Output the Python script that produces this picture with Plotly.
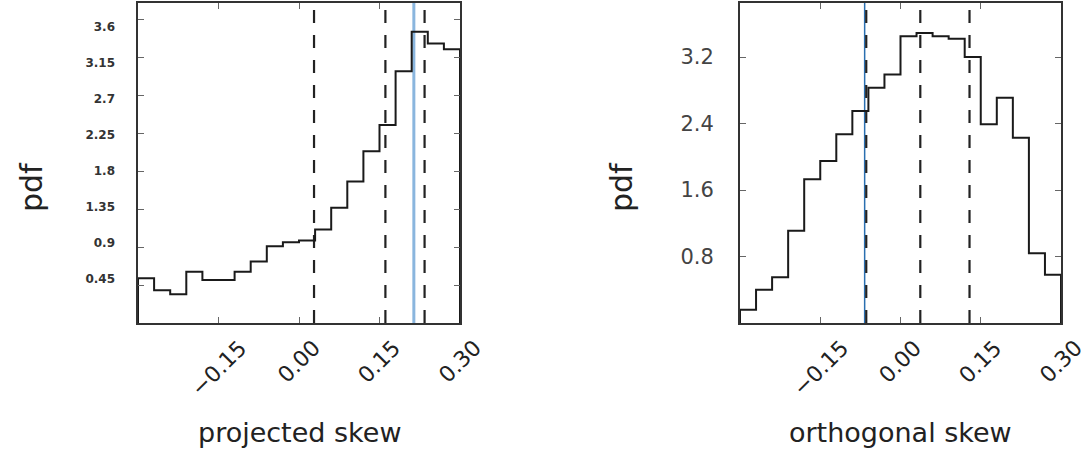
import plotly.graph_objects as go

# ---------------- data ----------------
bin_edges = [-0.30, -0.27, -0.24, -0.21, -0.18, -0.15, -0.12, -0.09, -0.06, -0.03,
             0.00, 0.03, 0.06, 0.09, 0.12, 0.15, 0.18, 0.21, 0.24, 0.27, 0.30]

proj_pdf = [0.53, 0.39, 0.34, 0.61, 0.51, 0.51, 0.61, 0.73, 0.91, 0.96,
            0.98, 1.11, 1.37, 1.68, 2.04, 2.35, 2.99, 3.46, 3.32, 3.25]
orth_pdf = [0.16, 0.40, 0.55, 1.11, 1.73, 1.95, 2.27, 2.55, 2.83, 2.99,
            3.45, 3.49, 3.45, 3.42, 3.20, 2.39, 2.71, 2.23, 0.84, 0.58]

proj_dashed = [0.028, 0.161, 0.234]
proj_blue = 0.214
orth_dashed = [-0.064, 0.037, 0.129]
orth_blue = -0.067

x_tickvals = [-0.15, 0.00, 0.15, 0.30]
x_ticktext = ["\u22120.15", "0.00", "0.15", "0.30"]

proj_yticks = [0.45, 0.9, 1.35, 1.8, 2.25, 2.7, 3.15, 3.6]
proj_yticktext = ["0.45", "0.9", "1.35", "1.8", "2.25", "2.7", "3.15", "3.6"]
orth_yticks = [0.8, 1.6, 2.4, 3.2]
orth_yticktext = ["0.8", "1.6", "2.4", "3.2"]

proj_yrange = [0, 3.8]
proj_label_range = [-0.110, 3.901]   # label column in the reference is slightly compressed
orth_yrange = [0, 3.85]

W, H = 1090, 452
FONT = "DejaVu Sans"


def step_xy(edges, vals):
    xs = [edges[0]] + list(edges) + [edges[-1]]
    ys = [0] + list(vals) + [vals[-1], 0]
    return xs, ys


fig = go.Figure()

panels = [
    dict(xa="x", ya="y", vals=proj_pdf, dashed=proj_dashed, blue=proj_blue,
         blue_color="#8ab6de", blue_w=3, yr=proj_yrange),
    dict(xa="x2", ya="y2", vals=orth_pdf, dashed=orth_dashed, blue=orth_blue,
         blue_color="#2a6fb0", blue_w=1.5, yr=orth_yrange),
]

for p in panels:
    fig.add_trace(go.Scatter(x=[p["blue"], p["blue"]], y=p["yr"], mode="lines",
                             line=dict(color=p["blue_color"], width=p["blue_w"]),
                             xaxis=p["xa"], yaxis=p["ya"], showlegend=False, hoverinfo="skip"))
    for d in p["dashed"]:
        fig.add_trace(go.Scatter(x=[d, d], y=p["yr"], mode="lines",
                                 line=dict(color="#222222", width=2.2, dash="13px,12px"),
                                 xaxis=p["xa"], yaxis=p["ya"], showlegend=False, hoverinfo="skip"))
    xs, ys = step_xy(bin_edges, p["vals"])
    fig.add_trace(go.Scatter(x=xs, y=ys, mode="lines", line=dict(color="#1a1a1a", width=2, shape="hv"),
                             xaxis=p["xa"], yaxis=p["ya"], showlegend=False, hoverinfo="skip"))

# empty helper trace so the label axis of the left panel is rendered
fig.add_trace(go.Scatter(x=[None], y=[None], mode="lines", xaxis="x", yaxis="y3",
                         showlegend=False, hoverinfo="skip"))

x1_dom = [138 / W, 460 / W]
x2_dom = [740 / W, 1061 / W]
y_dom = [(H - 323) / H, (H - 3) / H]

common_x = dict(range=[-0.3, 0.3], tickvals=x_tickvals, showticklabels=False,
                ticks="inside", ticklen=6, tickwidth=1, tickcolor="#666",
                showline=True, linecolor="#333", linewidth=2, mirror="ticks",
                showgrid=False, zeroline=False)
common_y = dict(ticks="inside", ticklen=6, tickwidth=1, tickcolor="#666",
                showline=True, linecolor="#333", linewidth=2, mirror="ticks",
                showgrid=False, zeroline=False, ticklabelstandoff=20)

fig.update_layout(
    width=W, height=H,
    margin=dict(l=0, r=0, t=0, b=0),
    paper_bgcolor="white", plot_bgcolor="white",
    font=dict(family=FONT, color="#222"),
    xaxis=dict(domain=x1_dom, anchor="y", **common_x),
    yaxis=dict(domain=y_dom, anchor="x", range=proj_yrange, tickvals=proj_yticks,
               showticklabels=False, **common_y),
    yaxis3=dict(domain=y_dom, anchor="x", overlaying="y", side="left", range=proj_label_range,
                tickvals=proj_yticks, ticktext=proj_yticktext, ticks="", showline=False,
                showgrid=False, zeroline=False, ticklabelstandoff=22,
                tickfont=dict(family=FONT, size=12, color="#333", weight="bold")),
    xaxis2=dict(domain=x2_dom, anchor="y2", **common_x),
    yaxis2=dict(domain=y_dom, anchor="x2", range=orth_yrange, tickvals=orth_yticks,
                ticktext=orth_yticktext,
                tickfont=dict(family=FONT, size=21, color="#444"), **common_y),
)

annotations = []
for xa in ["x", "x2"]:
    for v, t in zip(x_tickvals, x_ticktext):
        annotations.append(dict(x=v, xref=xa, y=(H - 333) / H, yref="paper",
                                text=t, showarrow=False, textangle=-45,
                                xanchor="center", yanchor="top",
                                font=dict(family=FONT, size=22, color="#222")))
annotations.append(dict(x=(138 + 460) / 2 / W, y=(H - 432) / H, xref="paper", yref="paper",
                        text="projected skew", showarrow=False, xanchor="center", yanchor="middle",
                        font=dict(family=FONT, size=27, color="#222")))
annotations.append(dict(x=(740 + 1061) / 2 / W, y=(H - 432) / H, xref="paper", yref="paper",
                        text="orthogonal skew", showarrow=False, xanchor="center", yanchor="middle",
                        font=dict(family=FONT, size=27, color="#222")))
annotations.append(dict(x=31 / W, y=(H - 187) / H, xref="paper", yref="paper",
                        text="pdf", showarrow=False, textangle=-90, xanchor="center", yanchor="middle",
                        font=dict(family=FONT, size=30, color="#222")))
annotations.append(dict(x=621 / W, y=(H - 187) / H, xref="paper", yref="paper",
                        text="pdf", showarrow=False, textangle=-90, xanchor="center", yanchor="middle",
                        font=dict(family=FONT, size=30, color="#222")))
fig.update_layout(annotations=annotations)

fig.write_html("out.html", config={"displayModeBar": False},
               post_script="document.body.style.margin='0';document.body.style.overflow='hidden';")
